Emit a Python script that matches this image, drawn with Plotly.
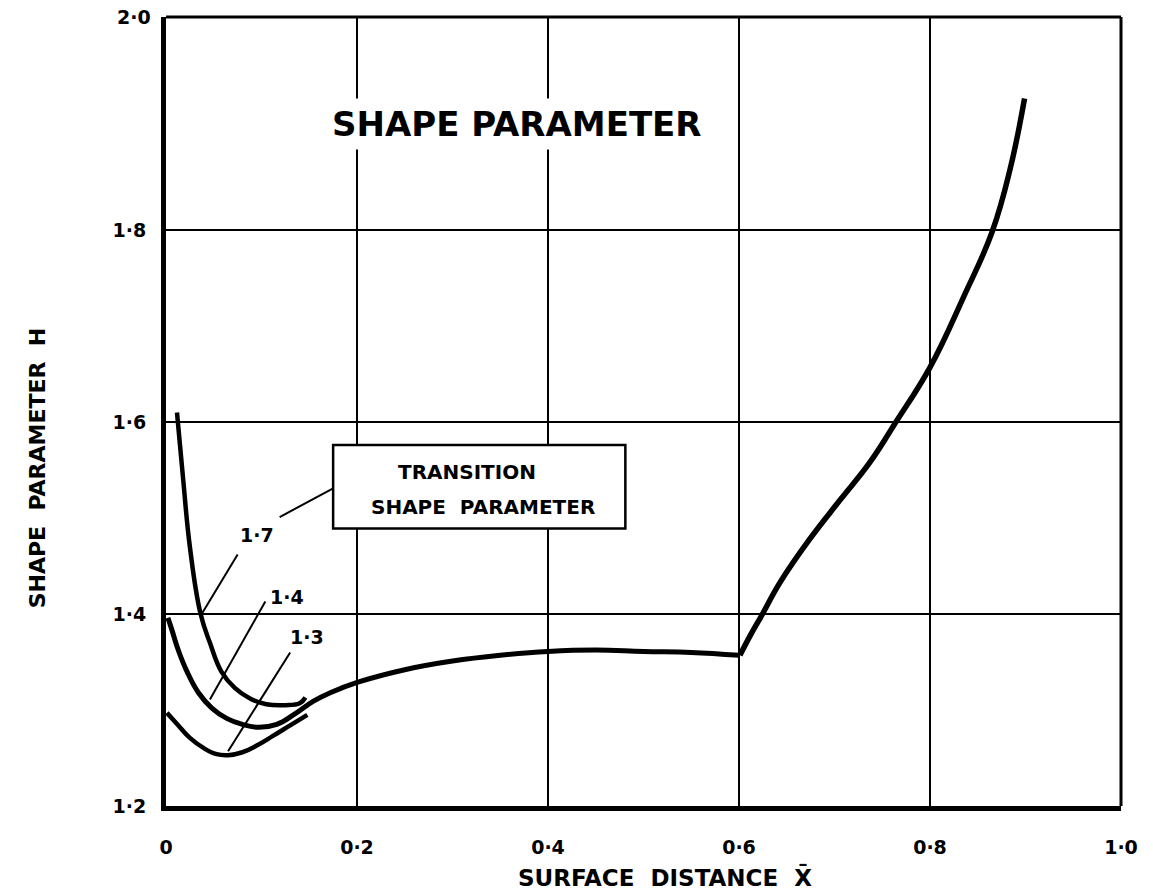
import plotly.graph_objects as go

# ---- data ----
x_ticks = [0, 0.2, 0.4, 0.6, 0.8, 1.0]
x_ticklabels = ["0", "0·2", "0·4", "0·6", "0·8", "1·0"]
y_ticks = [1.2, 1.4, 1.6, 1.8]
y_ticklabels = ["1·2", "1·4", "1·6", "1·8"]
y_top_label = "2·0"

# transition H = 1.4 branch, continuing as the common curve up to x = 0.6
main_left_x = [0.002, 0.006, 0.013, 0.022, 0.034, 0.048, 0.064, 0.080, 0.097, 0.116, 0.135,
               0.154, 0.172, 0.201, 0.25, 0.30, 0.35, 0.40, 0.45, 0.50, 0.55, 0.60]
main_left_y = [1.396, 1.384, 1.362, 1.340, 1.318, 1.302, 1.291, 1.285, 1.282, 1.285, 1.296,
               1.309, 1.318, 1.329, 1.342, 1.351, 1.357, 1.361, 1.3625, 1.361, 1.360, 1.357]
# common curve after the kink at x = 0.6
main_right_x = [0.601, 0.612, 0.624, 0.643, 0.674, 0.706, 0.737, 0.763, 0.800, 0.835,
                0.865, 0.884, 0.899]
main_right_y = [1.357, 1.378, 1.399, 1.433, 1.478, 1.519, 1.558, 1.598, 1.657, 1.730,
                1.798, 1.864, 1.937]
# transition H = 1.7 branch
c17_x = [0.0115, 0.018, 0.025, 0.036, 0.046, 0.058, 0.072, 0.088, 0.105, 0.125, 0.140, 0.146]
c17_y = [1.610, 1.540, 1.470, 1.401, 1.370, 1.340, 1.323, 1.312, 1.306, 1.305, 1.307, 1.313]
# transition H = 1.3 branch
c13_x = [0.001, 0.012, 0.025, 0.040, 0.053, 0.065, 0.080, 0.095, 0.112, 0.130, 0.148]
c13_y = [1.297, 1.285, 1.271, 1.260, 1.254, 1.253, 1.256, 1.263, 1.273, 1.284, 1.295]

branch_labels = ["1·7", "1·4", "1·3"]
branch_label_x = [0.095, 0.127, 0.148]
branch_label_y = [1.482, 1.418, 1.376]
# leader lines: (x0, y0, x1, y1)
leaders = [
    (0.075, 1.462, 0.038, 1.401),
    (0.119, 1.501, 0.175, 1.531),
    (0.104, 1.413, 0.046, 1.311),
    (0.130, 1.360, 0.065, 1.257),
]
box = (0.175, 1.489, 0.481, 1.576)

FONT = "DejaVu Sans"
BLACK = "black"

fig = go.Figure()
for xs, ys, w in [(main_left_x, main_left_y, 5), (main_right_x, main_right_y, 5.5),
                  (c17_x, c17_y, 4.5), (c13_x, c13_y, 4.5)]:
    fig.add_trace(go.Scatter(x=xs, y=ys, mode="lines",
                             line=dict(color=BLACK, width=w, shape="spline", smoothing=1.2),
                             hoverinfo="skip"))

shapes = []
for (x0, y0, x1, y1) in leaders:
    shapes.append(dict(type="line", xref="x", yref="y", x0=x0, y0=y0, x1=x1, y1=y1,
                       line=dict(color=BLACK, width=2)))
shapes.append(dict(type="rect", xref="x", yref="y", x0=box[0], y0=box[1], x1=box[2], y1=box[3],
                   fillcolor="white", line=dict(color=BLACK, width=2.5)))
# top and right frame
shapes.append(dict(type="line", xref="paper", yref="paper", x0=0, y0=1, x1=1, y1=1,
                   line=dict(color=BLACK, width=3)))
shapes.append(dict(type="line", xref="paper", yref="paper", x0=1, y0=0, x1=1, y1=1,
                   line=dict(color=BLACK, width=3)))

annotations = []
annotations.append(dict(text="SHAPE PARAMETER", x=0.3675, y=1.911, xref="x", yref="y",
                        showarrow=False, bgcolor="white", borderpad=5,
                        font=dict(family=FONT, size=34, color=BLACK, weight="bold")))
annotations.append(dict(text="TRANSITION", x=0.315, y=1.548, xref="x", yref="y",
                        showarrow=False, font=dict(family=FONT, size=20, color=BLACK, weight="bold")))
annotations.append(dict(text="SHAPE\u00a0\u00a0PARAMETER", x=0.332, y=1.511, xref="x", yref="y",
                        showarrow=False, font=dict(family=FONT, size=20, color=BLACK, weight="bold")))
for t, lx, ly in zip(branch_labels, branch_label_x, branch_label_y):
    annotations.append(dict(text=t, x=lx, y=ly, xref="x", yref="y", showarrow=False,
                            font=dict(family=FONT, size=19, color=BLACK, weight="bold")))
annotations.append(dict(text=y_top_label, x=0, y=1, xref="paper", yref="paper",
                        xanchor="right", yanchor="middle", xshift=-13, showarrow=False,
                        font=dict(family=FONT, size=19, color=BLACK, weight="bold")))
annotations.append(dict(text="SURFACE\u00a0\u00a0DISTANCE\u00a0\u00a0X\u0304", x=0.5225, y=0,
                        xref="paper", yref="paper", yanchor="middle", yshift=-71,
                        showarrow=False, font=dict(family=FONT, size=23, color=BLACK, weight="bold")))
annotations.append(dict(text="SHAPE\u00a0\u00a0PARAMETER\u00a0\u00a0H", x=0, y=0.428,
                        xref="paper", yref="paper", xanchor="center", yanchor="middle",
                        xshift=-129, textangle=-90, showarrow=False,
                        font=dict(family=FONT, size=22, color=BLACK, weight="bold")))

fig.update_layout(
    width=1153, height=896,
    margin=dict(l=166, r=32, t=17, b=90),
    plot_bgcolor="white", paper_bgcolor="white",
    showlegend=False,
    shapes=shapes, annotations=annotations,
    xaxis=dict(range=[0, 1], tickvals=x_ticks, ticktext=x_ticklabels,
               showgrid=True, gridcolor=BLACK, gridwidth=2, zeroline=False,
               showline=True, linecolor=BLACK, linewidth=5, ticks="",
               ticklabelstandoff=20,
               tickfont=dict(family=FONT, size=19, color=BLACK, weight="bold")),
    yaxis=dict(range=[1.2, 2.022], tickvals=y_ticks, ticktext=y_ticklabels,
               showgrid=True, gridcolor=BLACK, gridwidth=2, zeroline=False,
               showline=True, linecolor=BLACK, linewidth=5, ticks="",
               ticklabelstandoff=11,
               tickfont=dict(family=FONT, size=19, color=BLACK, weight="bold")),
)

fig.write_html("out.html")
